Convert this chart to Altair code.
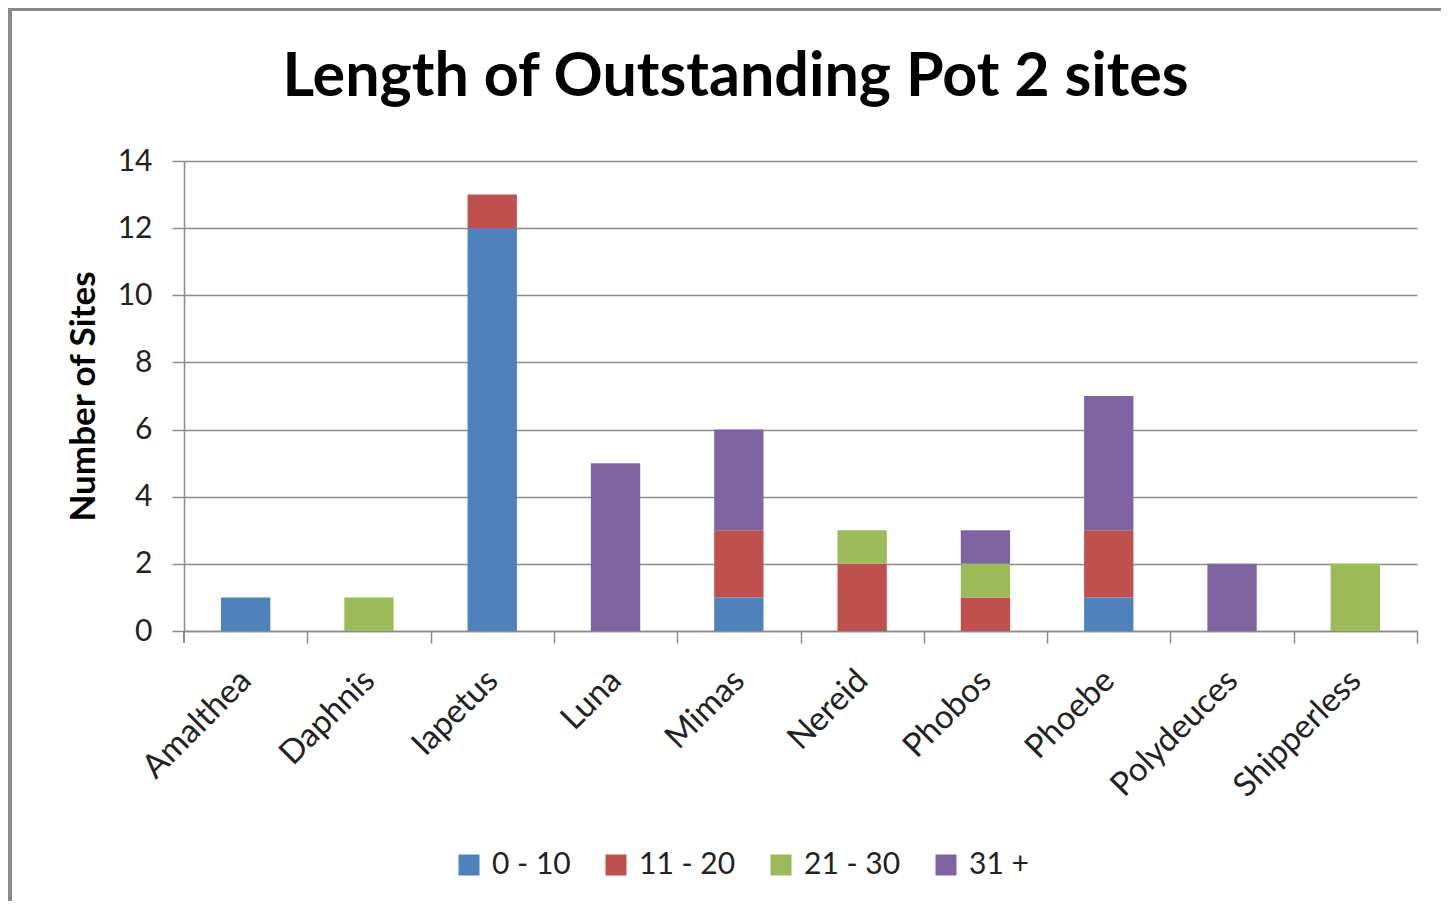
import altair as alt
import pandas as pd

moons = ["Amalthea", "Daphnis", "Iapetus", "Luna", "Mimas", "Nereid",
         "Phobos", "Phoebe", "Polydeuces", "Shipperless"]
bands = ["0 - 10", "11 - 20", "21 - 30", "31 +"]
s_0_10 = [1, 0, 12, 0, 1, 0, 0, 1, 0, 0]
s_11_20 = [0, 0, 1, 0, 2, 2, 1, 2, 0, 0]
s_21_30 = [0, 1, 0, 0, 0, 1, 1, 0, 0, 2]
s_31 = [0, 0, 0, 5, 3, 0, 1, 4, 2, 0]
colors = ["#4F81BD", "#C0504D", "#9BBB59", "#8064A2"]

series = [s_0_10, s_11_20, s_21_30, s_31]
rows = []
for bi, (b, vals) in enumerate(zip(bands, series)):
    for m, v in zip(moons, vals):
        rows.append({"moon": m, "band": b, "order": bi, "sites": v})
df = pd.DataFrame(rows)

FONT = "Lato"
GRID = "#8c8c8c"

bars = alt.Chart(df).mark_bar().encode(
    x=alt.X("moon:N", sort=moons,
            scale=alt.Scale(paddingInner=0.6, paddingOuter=0.3),
            axis=alt.Axis(title=None, labelAngle=-45, labelAlign="right",
                          labelBaseline="middle", labelFontSize=33,
                          labelFont=FONT, labelColor="#222222",
                          labelPadding=32, bandPosition=1, tickExtra=False,
                          tickOffset=37, labelOffset=-37,
                          tickSize=12,
                          tickColor=GRID, domainColor=GRID, tickWidth=1.5,
                          domainWidth=1.5, labelOverlap=False)),
    y=alt.Y("sites:Q", stack="zero",
            scale=alt.Scale(domain=[0, 14], nice=False),
            axis=alt.Axis(title="Number of Sites", values=[0, 2, 4, 6, 8, 10, 12, 14],
                          titleFont=FONT, titleFontSize=35, titleFontWeight="bold",
                          titleColor="#000000", titlePadding=16,
                          labelFont=FONT, labelFontSize=30, labelColor="#222222",
                          labelPadding=20, tickSize=12, tickColor=GRID,
                          domainColor=GRID, gridColor=GRID, gridWidth=1.5,
                          tickWidth=1.5, domainWidth=1.5)),
    color=alt.Color("band:N", sort=bands,
                    scale=alt.Scale(domain=bands, range=colors),
                    legend=alt.Legend(title=None, orient="none", direction="horizontal",
                                      legendX=270, legendY=689,
                                      symbolType="square", symbolSize=441,
                                      symbolStrokeWidth=0, labelFont=FONT,
                                      labelFontSize=30, labelColor="#222222",
                                      labelOffset=8, columnPadding=30)),
    order=alt.Order("order:Q", sort="ascending"),
)

first_tick = alt.Chart(df).mark_rule(color=GRID, strokeWidth=1.5).encode(
    x=alt.value(0), y=alt.value(470), y2=alt.value(482))
frame_left = alt.Chart(df).mark_rule(color="#8a8a8a", strokeWidth=3).encode(
    x=alt.value(-174), y=alt.value(-153), y2=alt.value(760))
frame_top = alt.Chart(df).mark_rule(color="#8a8a8a", strokeWidth=3).encode(
    x=alt.value(-174), x2=alt.value(1260), y=alt.value(-152))

chart = alt.layer(frame_left, frame_top, first_tick, bars).properties(
    width=1233, height=470,
    autosize=alt.AutoSizeParams(type="none"),
    padding={"left": 176, "top": 153, "right": 24, "bottom": 270},
    title=alt.TitleParams("Length of Outstanding Pot 2 sites", font=FONT,
                          fontSize=61, fontWeight="bold", color="#000000",
                          anchor="middle", dx=-65, offset=-150,
                          baseline="alphabetic"),
).configure_view(stroke=None).configure_axis(gridOpacity=1)

chart.save("out.html", embed_options={"renderer": "svg", "actions": False})
